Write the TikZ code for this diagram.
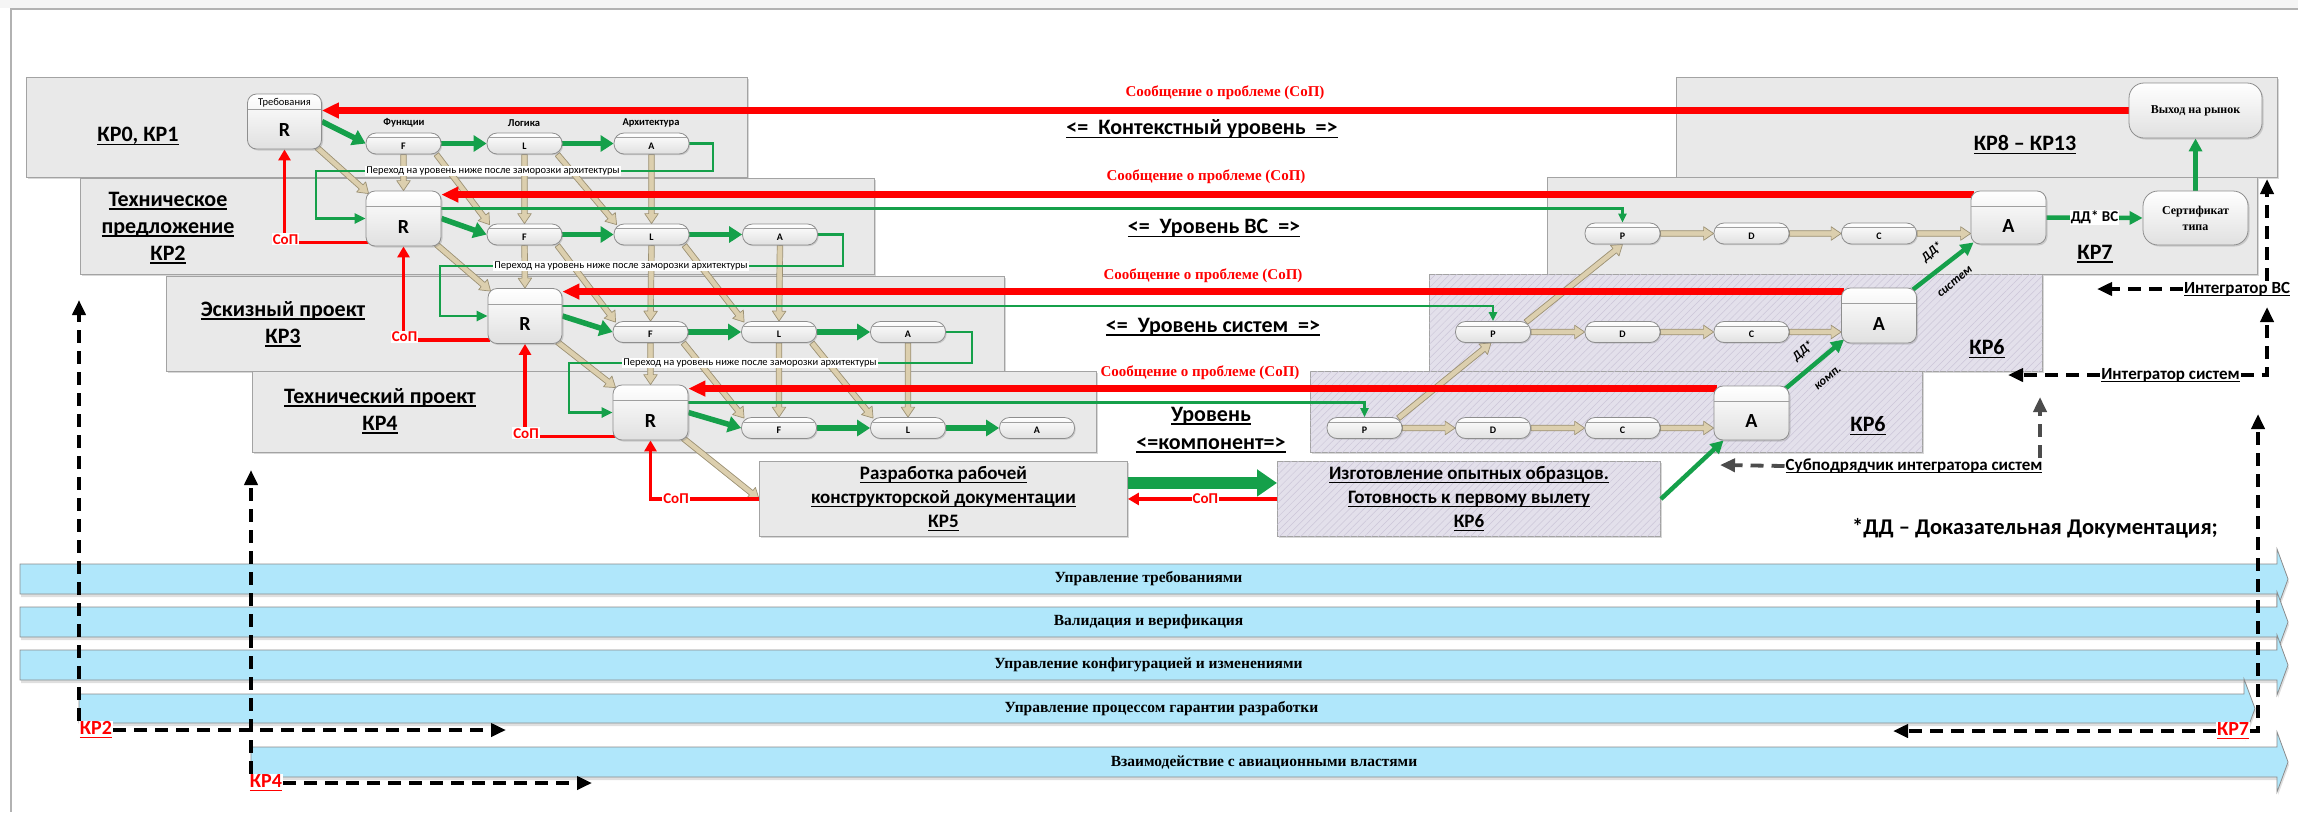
\documentclass[tikz,border=0pt]{standalone}
\usepackage{fontspec}
\setmainfont{Carlito}
\newfontfamily\tnr{Liberation Serif}
\usetikzlibrary{arrows.meta,calc,shadows,patterns.meta}
\pgfdeclarelayer{bg}
\pgfdeclarelayer{mid}
\pgfsetlayers{bg,mid,main}
\definecolor{grn}{HTML}{15A04A}
\definecolor{tanf}{HTML}{DCCFAE}
\definecolor{tane}{HTML}{9C9174}
\definecolor{boxg}{HTML}{E9E9E9}
\definecolor{boxe}{HTML}{A3A3A3}
\definecolor{purf}{HTML}{E3E0EB}
\definecolor{purh}{HTML}{CBC6D8}
\definecolor{barb}{HTML}{B0E7FB}
\definecolor{bare}{HTML}{8C8C8C}
\definecolor{nodee}{HTML}{8E8E8E}
\definecolor{nodeb}{HTML}{E0E0E0}
\newcommand\fsz[2]{\fontsize{#1}{#2}\selectfont}
\newsavebox\ulbox
\newcommand\uline[1]{\leavevmode\sbox\ulbox{#1}\rlap{\rule[-0.17em]{\wd\ulbox}{0.07em}}\usebox\ulbox}
\newcommand\tanarrow[2]{%
  \path #1 coordinate (tA) #2 coordinate (tB);
  \path ($(tB)!10pt!(tA)$) coordinate (tH);
  \filldraw[fill=tanf, draw=tane, line width=0.7pt, line join=round]
   ($(tA)!2.8pt!90:(tB)$) -- ($(tH)!2.8pt!90:(tB)$) -- ($(tH)!6.8pt!90:(tB)$) -- (tB)
   -- ($(tH)!6.8pt!-90:(tB)$) -- ($(tH)!2.8pt!-90:(tB)$) -- ($(tA)!2.8pt!-90:(tB)$) -- cycle;}
\newcommand\bignode[6]{%
  \node[rnode, minimum height=#5pt, minimum width=#6pt] (#1) at (#2,#3) {};
  \node[bigl] (#1t) at ($(#1.center)+(0,8.5)$) {#4};
  \draw[hdr] ($(#1.north west)+(0.5,16)$) -- ($(#1.north east)+(-0.5,16)$);}
\newcommand\pillnode[4]{%
  \node[pill] (#1) at (#2,#3) {};
  \node[pillt] (#1t) at ($(#1.center)+(0,2.5)$) {#4};
  \draw[hdr] ($(#1.north west)+(2.5,5)$) -- ($(#1.north east)+(-2.5,5)$);}
\newcommand\procbar[6]{%
  \draw[barst] (#1,#3) -- (#2,#3) -- (#2,#3-15) -- (#2+11,{(#3+#4)/2}) -- (#2,#4+15) -- (#2,#4) -- (#1,#4) -- cycle;
  \node[bartxt] (#6) at ({(#1+#2)/2},{(#3+#4)/2}) {#5};}
\begin{document}
\begin{tikzpicture}[x=1pt,y=-1pt,
  lvl/.style={draw=boxe, line width=0.9pt, fill=boxg, anchor=north west, inner sep=0pt, drop shadow={shadow xshift=2pt,shadow yshift=-2pt,opacity=0.3}},
  plvl/.style={lvl, fill=purf, postaction={pattern={Lines[angle=45,distance=5pt,line width=0.5pt]}, pattern color=purh}},
  rnode/.style={draw=nodee, line width=0.8pt, rounded corners=9pt, top color=white, bottom color=nodeb, inner sep=0pt, drop shadow={shadow xshift=1.5pt,shadow yshift=-1.5pt,opacity=0.3}},
  pill/.style={draw=nodee, line width=0.8pt, rounded corners=10pt, top color=white, bottom color=nodeb, minimum width=75pt, minimum height=21pt, inner sep=0pt, drop shadow={shadow xshift=1.2pt,shadow yshift=-1.2pt,opacity=0.3}},
  hdr/.style={draw=gray!75, line width=0.7pt},
  bigl/.style={font=\bfseries\fsz{20}{20}, inner sep=0pt},
  pillt/.style={font=\bfseries\fsz{10}{10}, inner sep=0pt},
  smallt/.style={font=\bfseries\fsz{10.5}{11}, inner sep=0pt},
  ttl/.style={font=\bfseries\fsz{22}{27}, align=center, inner sep=0pt},
  msg/.style={text=red, font=\tnr\bfseries\fsz{15}{15}, inner sep=0pt},
  sop/.style={text=red, fill=white, font=\bfseries\fsz{15}{15}, inner sep=1pt},
  perehod/.style={fill=white, font=\fsz{10.5}{11}, inner sep=1pt},
  integ/.style={font=\bfseries\fsz{17}{17}, inner sep=1pt, fill=white},
  kplbl/.style={text=red, fill=white, font=\bfseries\fsz{20}{20}, inner sep=1pt},
  bartxt/.style={font=\tnr\bfseries\fsz{15.5}{16}, inner sep=0pt},
  barst/.style={fill=barb, draw=bare, line width=0.8pt, drop shadow={shadow xshift=1pt,shadow yshift=-3pt,opacity=0.25}},
  rot/.style={font=\bfseries\itshape\fsz{12.5}{12.5}, inner sep=0pt, rotate=40},
  gthick/.style={draw=grn, line width=5.5pt, -{Triangle[width=16pt,length=13pt]}},
  gthin/.style={draw=grn, line width=2.8pt, -{Triangle[width=10pt,length=11pt]}},
  gline/.style={draw=grn, line width=2.2pt, -{Triangle[width=8pt,length=9pt]}},
  gmed/.style={draw=grn, line width=4.5pt, -{Triangle[width=13pt,length=13pt]}},
  gbig/.style={draw=grn, line width=12pt, -{Triangle[width=26pt,length=20pt]}},
  rthick/.style={draw=red, line width=6.5pt, -{Triangle[width=15pt,length=17pt]}},
  rthin/.style={draw=red, line width=3.5pt, -{Triangle[width=12pt,length=11pt]}},
  dsh/.style={draw=black, line width=3.8pt, dash pattern=on 13pt off 8pt, -{Triangle[width=13pt,length=15pt]}},
  dshg/.style={dsh, draw=black!70}
]
\useasboundingbox (0,0) rectangle (2298,812);

% ---------------- background, level boxes, bars
\begin{pgfonlayer}{bg}
\fill[white] (0,0) rectangle (2298,812);
\fill[gray!8] (0,0) rectangle (2298,8);
\draw[gray!60, line width=1.2pt] (10,9) -- (2298,9);
\draw[gray!60, line width=1.2pt] (11,9) -- (11,812);
\node[lvl, minimum width=721pt, minimum height=100pt] (B1) at (26,77) {};
\node[lvl, minimum width=794pt, minimum height=96pt] (B2) at (80,178) {};
\node[lvl, minimum width=838pt, minimum height=95pt] (B3) at (166,276) {};
\node[lvl, minimum width=844pt, minimum height=81pt] (B4) at (252,371) {};
\node[lvl, minimum width=601pt, minimum height=100pt] (B8) at (1676,77) {};
\node[lvl, minimum width=710pt, minimum height=97pt] (B7) at (1547,177) {};
\node[plvl, minimum width=613pt, minimum height=97pt] (B6s) at (1429,274) {};
\node[plvl, minimum width=612pt, minimum height=81pt] (B6c) at (1310,371) {};
\node[lvl, minimum width=368pt, minimum height=75pt, align=center, font=\bfseries\fsz{19}{24}] (KP5) at (759,461)
  {\uline{Разработка рабочей}\\\uline{конструкторской документации}\\\uline{КР5}};
\node[plvl, minimum width=383pt, minimum height=75pt, align=center, font=\bfseries\fsz{19}{24}] (KP6b) at (1277,461)
  {\uline{Изготовление опытных образцов.}\\\uline{Готовность к первому вылету}\\\uline{КР6}};
\procbar{20}{2277}{564}{594}{Управление требованиями}{bar1}
\procbar{20}{2277}{607}{637}{Валидация и верификация}{bar2}
\procbar{20}{2277}{650}{680}{Управление конфигурацией и изменениями}{bar3}
\procbar{79}{2244}{694}{723}{Управление процессом гарантии разработки}{bar4}
\procbar{251}{2277}{747}{777}{Взаимодействие с авиационными властями}{bar5}
\end{pgfonlayer}

% ---------------- titles
\node[ttl] (t0) at (138,136) {\uline{КР0, КР1}};
\node[ttl] (t2) at (168,228) {\uline{Техническое}\\\uline{предложение}\\\uline{КР2}};
\node[ttl] (t3) at (283,324) {\uline{Эскизный проект}\\\uline{КР3}};
\node[ttl] (t4) at (380,411) {\uline{Технический проект}\\\uline{КР4}};
\node[ttl] (tctx) at (1202,129) {\uline{<=\ \ Контекстный уровень\ \ =>}};
\node[ttl] (tvc) at (1214,228) {\uline{<=\ \ Уровень ВС\ \ =>}};
\node[ttl] (tsys) at (1213,327) {\uline{<=\ \ Уровень систем\ \ =>}};
\node[ttl, font=\bfseries\fsz{22}{28}] (tcomp) at (1211,430) {\uline{Уровень}\\\uline{<=компонент=>}};
\node[ttl] (t813) at (2025,145) {\uline{КР8 – КР13}};
\node[ttl] (t7) at (2095,254) {\uline{КР7}};
\node[ttl] (t6s) at (1987,349) {\uline{КР6}};
\node[ttl] (t6c) at (1868,426) {\uline{КР6}};
\node[ttl, font=\bfseries\fsz{22.5}{27}] (foot) at (2035,528) {*ДД – Доказательная Документация;};

% ---------------- nodes
\bignode{R1}{284.5}{121.5}{R}{55}{74}
\bignode{R2}{403.5}{218.5}{R}{55}{75}
\bignode{R3}{525}{316}{R}{55}{74}
\bignode{R4}{650.5}{412.5}{R}{55}{75}
\node[smallt, font=\fsz{10.5}{11}] (treb) at (284.5,102.5) {Требования};
\pillnode{F1}{403.5}{143.5}{F}
\pillnode{L1}{524.5}{143.5}{L}
\pillnode{A1}{651.5}{143.5}{A}
\node[smallt] (hF) at (404,123) {Функции};
\node[smallt] (hL) at (524,123) {Логика};
\node[smallt] (hA) at (651,123) {Архитектура};
\pillnode{F2}{524.5}{234.5}{F}
\pillnode{L2}{651.5}{234.5}{L}
\pillnode{A2}{780}{234.5}{A}
\pillnode{F3}{650.5}{332}{F}
\pillnode{L3}{779}{332}{L}
\pillnode{A3}{908}{332}{A}
\pillnode{F4}{779}{428}{F}
\pillnode{L4}{908}{428}{L}
\pillnode{A4}{1037}{428}{A}
\pillnode{Pv}{1622.5}{233.5}{P}
\pillnode{Dv}{1751.5}{233.5}{D}
\pillnode{Cv}{1879}{233.5}{C}
\bignode{Av}{2008.5}{217.5}{A}{53}{75}
\pillnode{Ps}{1493}{332}{P}
\pillnode{Ds}{1622.5}{332}{D}
\pillnode{Cs}{1751.5}{332}{C}
\bignode{As}{1879}{315.5}{A}{55}{75}
\pillnode{Pc}{1364.5}{428}{P}
\pillnode{Dc}{1493}{428}{D}
\pillnode{Cc}{1622.5}{428}{C}
\bignode{Ac}{1751.5}{413}{A}{54}{75}
\node[rnode, rounded corners=15pt, minimum width=105pt, minimum height=54pt, align=center, font=\tnr\bfseries\fsz{12}{16}] (Sert) at (2195.5,218) {Сертификат\\типа};
\node[rnode, rounded corners=15pt, minimum width=133pt, minimum height=55pt, font=\tnr\bfseries\fsz{12}{14}] (Vyhod) at (2195.5,110.5) {Выход на рынок};

% ---------------- connectors (below nodes)
\begin{pgfonlayer}{mid}
\tanarrow{($(R1.south east)+(-5,-2)$)}{($(R2.north west)+(3,3)$)}
\tanarrow{(F1.south)}{(R2.north)}
\tanarrow{($(F1.south east)+(-5,0)$)}{($(F2.north west)+(3,1)$)}
\tanarrow{(L1.south)}{(F2.north)}
\tanarrow{($(L1.south east)+(-5,0)$)}{($(L2.north west)+(3,1)$)}
\tanarrow{(A1.south)}{(L2.north)}
\tanarrow{($(R2.south east)+(-5,-2)$)}{($(R3.north west)+(3,3)$)}
\tanarrow{(F2.south)}{(R3.north)}
\tanarrow{($(F2.south east)+(-5,0)$)}{($(F3.north west)+(3,1)$)}
\tanarrow{(L2.south)}{(F3.north)}
\tanarrow{($(L2.south east)+(-5,0)$)}{($(L3.north west)+(3,1)$)}
\tanarrow{(A2.south)}{(L3.north)}
\tanarrow{($(R3.south east)+(-5,-2)$)}{($(R4.north west)+(3,3)$)}
\tanarrow{(F3.south)}{(R4.north)}
\tanarrow{($(F3.south east)+(-5,0)$)}{($(F4.north west)+(3,1)$)}
\tanarrow{(L3.south)}{(F4.north)}
\tanarrow{($(L3.south east)+(-5,0)$)}{($(L4.north west)+(3,1)$)}
\tanarrow{(A3.south)}{(L4.north)}
\tanarrow{($(R4.south east)+(-5,-2)$)}{(KP5.west)}
\tanarrow{(Pv.east)}{(Dv.west)}
\tanarrow{(Dv.east)}{(Cv.west)}
\tanarrow{(Cv.east)}{(Cv.east -| Av.west)}
\tanarrow{(Ps.east)}{(Ds.west)}
\tanarrow{(Ds.east)}{(Cs.west)}
\tanarrow{(Cs.east)}{(Cs.east -| As.west)}
\tanarrow{(Pc.east)}{(Dc.west)}
\tanarrow{(Dc.east)}{(Cc.west)}
\tanarrow{(Cc.east)}{(Cc.east -| Ac.west)}
\tanarrow{($(Pc.north east)+(-4,1)$)}{($(Ps.south)+(-2,0)$)}
\tanarrow{($(Ps.north east)+(-5,1)$)}{(Pv.south)}

\foreach \r/\f/\l/\a in {R1/F1/L1/A1, R2/F2/L2/A2, R3/F3/L3/A3, R4/F4/L4/A4}{
  \draw[gthick] (\r.east) -- (\f.west);
  \draw[gthick] (\f.east) -- (\l.west);
  \draw[gthick] (\l.east) -- (\a.west);
}
\draw[gthin] (A1.east) -| (713,171) -- (316,171) |- (R2.west);
\draw[gthin] (A2.east) -| (843,266) -- (440,266) |- (R3.west);
\draw[gthin] (A3.east) -| (972,363) -- (569,363) |- (R4.west);
\node[perehod] (ph1) at (493,171) {Переход на уровень ниже после заморозки архитектуры};
\node[perehod] (ph2) at (621,266) {Переход на уровень ниже после заморозки архитектуры};
\node[perehod] (ph3) at (750,363) {Переход на уровень ниже после заморозки архитектуры};
\draw[gline] ($(R2.east)+(0,-10)$) -| (Pv.north);
\draw[gline] ($(R3.east)+(0,-10)$) -| (Ps.north);
\draw[gline] ($(R4.east)+(0,-10)$) -| (Pc.north);

\draw[gmed] ($(Ac.north east)+(-4,3)$) -- ($(As.south west)+(3,-4)$);
\draw[gmed] ($(As.north east)+(-4,2)$) -- ($(Av.south west)+(3,-2)$);
\draw[gmed] ($(KP6b.north east)+(0,38)$) -- ($(Ac.south west)+(10,0)$);
\draw[gmed] (Av.east) -- (Sert.west) node[pos=0.5, fill=white, font=\bfseries\fsz{15}{15}, inner sep=1pt] (ddvs) {ДД* ВС};
\draw[gmed] (Sert.north) -- (Vyhod.south);
\draw[gbig] ($(KP5.east)+(0,-16)$) -- ($(KP6b.west)+(0,-16)$);

\coordinate (m2) at ($(Av.north west)+(3,4)$);
\coordinate (m3) at ($(As.north west)+(3,4)$);
\coordinate (m4) at ($(Ac.north west)+(3,3)$);
\draw[rthick] (Vyhod.west) -- (Vyhod.west -| R1.east);
\draw[rthick] (m2) -- (m2 -| R2.east);
\draw[rthick] (m3) -- (m3 -| R3.east);
\draw[rthick] (m4) -- (m4 -| R4.east);
\node[msg] (msg1) at (1225,93) {Сообщение о проблеме (СоП)};
\node[msg] (msg2) at (1206,177) {Сообщение о проблеме (СоП)};
\node[msg] (msg3) at (1203,276) {Сообщение о проблеме (СоП)};
\node[msg] (msg4) at (1200,373) {Сообщение о проблеме (СоП)};

\draw[rthin] ($(R2.south west)+(2,-4)$) coordinate (c1) -| (R1.south);
\node[sop] (sop1) at ($(c1 -| R1.south)+(1,-3)$) {СоП};
\draw[rthin] ($(R3.south west)+(2,-4)$) coordinate (c2) -| (R2.south);
\node[sop] (sop2) at ($(c2 -| R2.south)+(1,-3)$) {СоП};
\draw[rthin] ($(R4.south west)+(2,-4)$) coordinate (c3) -| (R3.south);
\node[sop] (sop3) at ($(c3 -| R3.south)+(1,-3)$) {СоП};
\draw[rthin] (KP5.west) -| (R4.south);
\node[sop] (sop4) at ($(KP5.west)+(-83,0)$) {СоП};
\draw[rthin] (KP6b.west) -- (KP5.east) node[sop, pos=0.48] (sop5) {СоП};
\end{pgfonlayer}

\node[rot] (dd1) at (1803,351) {ДД*};
\node[rot] (komp) at (1828,378) {комп.};
\node[rot] (dd2) at (1932,252) {ДД*};
\node[rot] (sist) at (1955,282) {систем};

\node[integ] (IntVC) at (2237,289) {\uline{Интегратор ВС}};
\node[integ] (IntSys) at (2170.5,375) {\uline{Интегратор систем}};
\node[integ] (Sub) at (1914,466) {\uline{Субподрядчик интегратора систем}};
\coordinate (tv1) at (2267,179);
\coordinate (tv2) at (2267,307);
\coordinate (tv3) at (2258,414);
\draw[dsh] (IntVC.north -| tv1) -- (tv1);
\draw[dsh] (IntVC.west) -- (2097,289) coordinate (th1);
\draw[dsh] (IntSys.east) -| (tv2);
\draw[dsh] (IntSys.west) -- (2008,375) coordinate (th2);
\draw[dshg] (Sub.west) -- (1720,465) coordinate (th3);
\draw[dshg] ($(Sub.north)+(126,0)$) -- (2040,397) coordinate (tv4);

\node[kplbl] (KP2l) at (96,730) {\uline{КР2}};
\node[kplbl] (KP4l) at (266,783) {\uline{КР4}};
\node[kplbl] (KP7l) at (2233,731) {\uline{КР7}};
\coordinate (tl1) at (79,300);
\coordinate (tl2) at (251,470);
\draw[dsh] (KP2l.north west -| tl1) -- (tl1);
\draw[dsh] (KP2l.east) -- (506,730) coordinate (th4);
\draw[dsh] (KP4l.north west -| tl2) -- (tl2);
\draw[dsh] (KP4l.east) -- (592,783) coordinate (th5);
\draw[dsh] (KP7l.east) -| (tv3);
\draw[dsh] (KP7l.west) -- (1893,731) coordinate (th6);
\end{tikzpicture}
\end{document}
